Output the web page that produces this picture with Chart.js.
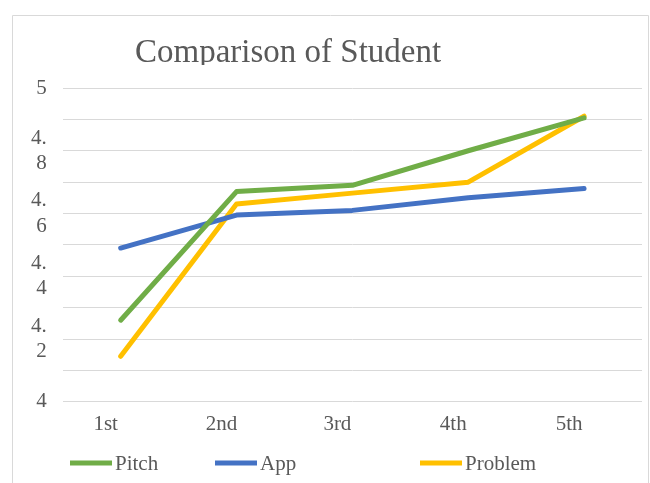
<!DOCTYPE html>
<html>
<head>
<meta charset="utf-8">
<script src="https://cdn.jsdelivr.net/npm/chart.js@4/dist/chart.umd.min.js"></script>
<style>
  html, body { margin: 0; padding: 0; background: #ffffff; }
  #wrap { position: relative; width: 650px; height: 483px; }
</style>
</head>
<body>
<div id="wrap"><canvas id="chart" width="650" height="483"></canvas></div>
<script>
// Survey rounds and the mean score of each question group
const categories = ['1st', '2nd', '3rd', '4th', '5th'];
const pitchScores = [4.26, 4.67, 4.69, 4.80, 4.905];
const appScores = [4.49, 4.595, 4.61, 4.65, 4.68];
const problemScores = [4.145, 4.63, 4.665, 4.70, 4.91];
const yTickLabels = ['4', '4.2', '4.4', '4.6', '4.8', '5'];
const chartTitle = 'Comparison of Student';

const SERIF = '"Liberation Serif", "Times New Roman", serif';
const TEXT = '#595959';

// Outer frame of the chart object
const framePlugin = {
  id: 'frame',
  beforeDraw(chart) {
    const c = chart.ctx;
    c.save();
    c.strokeStyle = '#d9d9d9';
    c.lineWidth = 1;
    c.beginPath();
    c.moveTo(12.5, 483);
    c.lineTo(12.5, 15.5);
    c.lineTo(648.5, 15.5);
    c.lineTo(648.5, 483);
    c.stroke();
    c.restore();
  }
};

// Title sits left of centre, its box clipping the descenders
const titlePlugin = {
  id: 'leftTitle',
  afterDraw(chart) {
    const c = chart.ctx;
    c.save();
    c.beginPath();
    c.rect(0, 0, chart.width, 65);
    c.clip();
    c.font = '33px ' + SERIF;
    c.fillStyle = TEXT;
    c.textAlign = 'left';
    c.textBaseline = 'alphabetic';
    c.fillText(chartTitle, 135, 62);
    c.restore();
  }
};

// Legend entries laid out along the bottom edge
const legendPlugin = {
  id: 'bottomLegend',
  afterDraw(chart) {
    const c = chart.ctx;
    const starts = [70, 215, 420];
    const y = 463;
    c.save();
    c.font = '21px ' + SERIF;
    c.textBaseline = 'middle';
    c.textAlign = 'left';
    chart.data.datasets.forEach((ds, i) => {
      const x = starts[i];
      c.strokeStyle = ds.borderColor;
      c.lineWidth = 5;
      c.lineCap = 'butt';
      c.beginPath();
      c.moveTo(x, y);
      c.lineTo(x + 42, y);
      c.stroke();
      c.fillStyle = TEXT;
      c.fillText(ds.label, x + 45, y + 1);
    });
    c.restore();
  }
};

new Chart(document.getElementById('chart'), {
  type: 'line',
  data: {
    labels: categories,
    datasets: [
      { label: 'Pitch', data: pitchScores, borderColor: '#70AD47', backgroundColor: '#70AD47' },
      { label: 'App', data: appScores, borderColor: '#4472C4', backgroundColor: '#4472C4' },
      { label: 'Problem', data: problemScores, borderColor: '#FFC000', backgroundColor: '#FFC000' }
    ]
  },
  options: {
    responsive: false,
    animation: false,
    devicePixelRatio: 1,
    layout: { padding: { left: 15, right: 8, top: 88, bottom: 44 } },
    elements: {
      line: { borderWidth: 5, tension: 0, borderCapStyle: 'round', borderJoinStyle: 'round', fill: false },
      point: { radius: 0, hoverRadius: 0 }
    },
    plugins: {
      legend: { display: false },
      tooltip: { enabled: false },
      title: { display: false }
    },
    scales: {
      x: {
        offset: true,
        grid: { display: false },
        border: { display: false },
        ticks: {
          color: TEXT,
          font: { family: SERIF, size: 21 },
          padding: 2,
          labelOffset: -15,
          maxRotation: 0
        }
      },
      y: {
        min: 4,
        max: 5,
        grid: { color: '#d9d9d9', lineWidth: 1, drawTicks: false },
        border: { display: false },
        ticks: {
          stepSize: 0.1,
          autoSkip: false,
          color: TEXT,
          padding: 16,
          font: { family: SERIF, size: 21, lineHeight: 1.2 },
          callback(value) {
            const v = Math.round(value * 10) / 10;
            const label = yTickLabels.find(t => Math.abs(parseFloat(t) - v) < 1e-6);
            if (!label) return '';
            const dot = label.indexOf('.');
            return dot < 0 ? label : [label.slice(0, dot + 1), label.slice(dot + 1)];
          }
        }
      }
    }
  },
  plugins: [framePlugin, titlePlugin, legendPlugin]
});
</script>
</body>
</html>
